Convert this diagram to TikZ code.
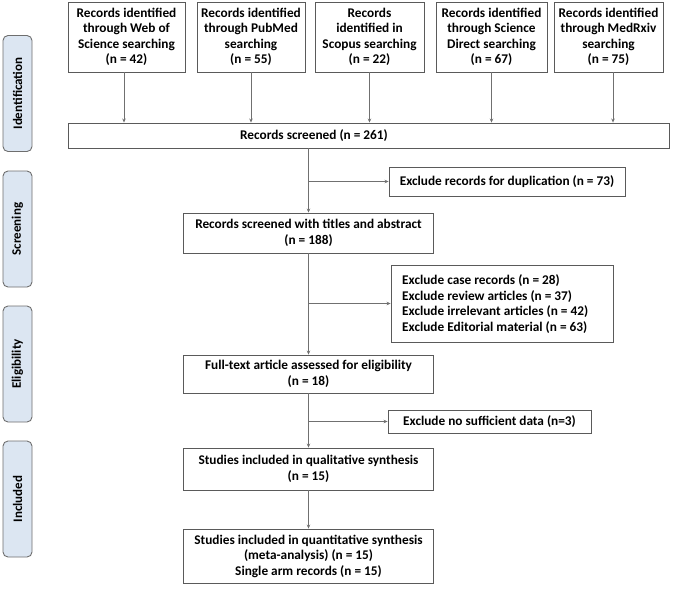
\documentclass[tikz,border=0pt]{standalone}
\usepackage{fontspec}
\setmainfont{Carlito}
\usetikzlibrary{arrows.meta}
\definecolor{boxline}{HTML}{5A5A5A}
\definecolor{arrowline}{HTML}{707070}
\definecolor{sidefill}{HTML}{DCE6F2}
\definecolor{sideline}{HTML}{6E6E6E}
\tikzset{
  txtfont/.style={font=\bfseries\fontsize{13.3}{15.5}\selectfont},
  box/.style={draw=boxline, line width=0.9pt, fill=white, inner sep=0pt, align=center, txtfont},
  sidebox/.style={draw=sideline, line width=0.9pt, fill=sidefill, rounded corners=5pt,
    minimum width=29pt, minimum height=116pt, inner sep=0pt},
  sidetext/.style={rotate=90, font=\bfseries\fontsize{13}{15}\selectfont},
  conn/.style={draw=arrowline, line width=0.8pt, -{Stealth[length=4pt,width=3.5pt]}}
}
\begin{document}
\begin{tikzpicture}[x=1pt,y=-1pt]
\useasboundingbox (0,0) rectangle (676,590);
% side labels
\node[sidebox] (sid) at (17.5,93.5) {};
\node[sidetext] (sidt) at (sid) {Identification};
\node[sidebox] (ssc) at (17.5,229) {};
\node[sidetext] (ssct) at (ssc) {Screening};
\node[sidebox] (sel) at (17.5,364) {};
\node[sidetext] (selt) at (sel) {Eligibility};
\node[sidebox] (sin) at (17.5,499) {};
\node[sidetext] (sint) at (sin) {Included};
% top boxes
\node[box, minimum width=117pt, minimum height=70pt] (b1) at (126.5,37) {Records identified\\through Web of\\Science searching\\(n = 42)};
\node[box, minimum width=108pt, minimum height=70pt] (b2) at (251,37) {Records identified\\through PubMed\\searching\\(n = 55)};
\node[box, minimum width=109pt, minimum height=70pt] (b3) at (369.5,37) {Records\\identified in\\Scopus searching\\(n = 22)};
\node[box, minimum width=111pt, minimum height=70pt] (b4) at (491.5,37) {Records identified\\through Science\\Direct searching\\(n = 67)};
\node[box, minimum width=109pt, minimum height=70pt] (b5) at (608.5,37) {Records identified\\through MedRxiv\\searching\\(n = 75)};
% records screened
\node[box, minimum width=601pt, minimum height=25pt] (scr) at (368.5,135.5) {};
\node[txtfont, inner sep=0pt] (scrt) at (314,135.5) {Records screened (n = 261)};
% main flow
\node[box, minimum width=250pt, minimum height=40pt] (tit) at (308.5,233) {Records screened with titles and abstract\\(n = 188)};
\node[box, minimum width=250pt, minimum height=38pt] (ful) at (308.5,374) {Full-text article assessed for eligibility\\(n = 18)};
\node[box, minimum width=250pt, minimum height=42pt] (qual) at (308.5,469) {Studies included in qualitative synthesis\\(n = 15)};
\node[box, minimum width=250pt, minimum height=54pt] (quan) at (308.5,556) {Studies included in quantitative synthesis\\(meta-analysis) (n = 15)\\Single arm records (n = 15)};
% exclusions
\node[box, minimum width=236pt, minimum height=29pt] (dup) at (507,181.5) {Exclude records for duplication (n = 73)};
\node[box, minimum width=222pt, minimum height=77pt] (exl) at (502,303.5) {};
\node[txtfont, inner sep=0pt, align=left, anchor=west] (exlt) at (402,304) {Exclude case records (n = 28)\\Exclude review articles (n = 37)\\Exclude irrelevant articles (n = 42)\\Exclude Editorial material (n = 63)};
\node[box, minimum width=203pt, minimum height=23pt] (nos) at (489.5,421.5) {Exclude no sufficient data (n=3)};
% connectors
\draw[conn] ([xshift=-2.5pt]b1.south) -- ([xshift=-2.5pt]b1.south |- scr.north);
\draw[conn] (b2.south) -- (b2.south |- scr.north);
\draw[conn] (b3.south) -- (b3.south |- scr.north);
\draw[conn] (b4.south) -- (b4.south |- scr.north);
\draw[conn] ([xshift=4.5pt]b5.south) -- ([xshift=4.5pt]b5.south |- scr.north);
\draw[conn] (tit.north |- scr.south) -- (tit.north);
\draw[conn] (tit.north |- dup.west) -- (dup.west);
\draw[conn] (tit.south) -- (ful.north);
\draw[conn] (tit.south |- exl.west) -- (exl.west);
\draw[conn] (ful.south) -- (qual.north);
\draw[conn] (ful.south |- nos.west) -- (nos.west);
\draw[conn] (qual.south) -- (quan.north);
\end{tikzpicture}
\end{document}
